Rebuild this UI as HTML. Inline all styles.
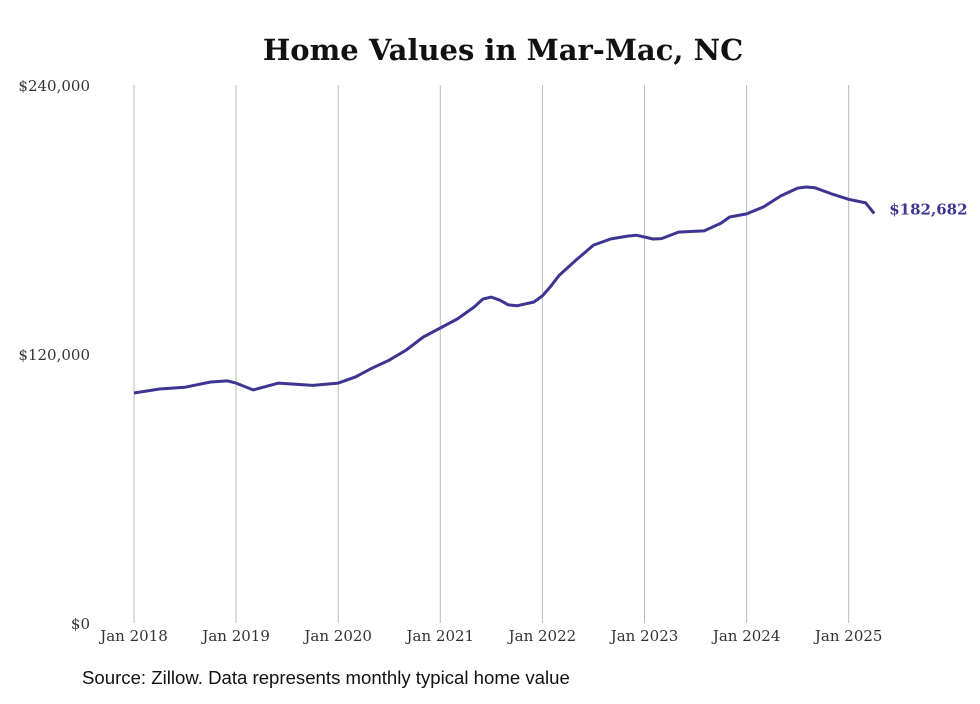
<!DOCTYPE html>
<html><head><meta charset="utf-8"><style>
body{margin:0;background:#fff;width:980px;height:699px;overflow:hidden}
svg text{font-family:"DejaVu Serif","Liberation Serif",serif}
</style></head><body>
<svg width="980" height="699" id="chart">
<text x="503" y="60" text-anchor="middle" font-size="29" font-weight="bold" fill="#111">Home Values in Mar-Mac, NC</text>
<g id="grid"></g><g id="ylab"></g><g id="xlab"></g>
<path id="line" fill="none" stroke="#3d3591" stroke-width="3" stroke-linejoin="round"/>
<text id="endlabel" font-size="15" font-weight="bold" fill="#3d3591"></text>
<text x="82" y="684" font-size="18.6" fill="#111" style="font-family:'Liberation Sans',sans-serif">Source: Zillow. Data represents monthly typical home value</text>
</svg>
<script>
const monthIdx=[0,3,6,9,11,12,14,17,21,24,26,28,30,32,34,36,38,40,41,42,43,44,45,47,48,49,50,52,54,56,58,59,60,61,62,64,66,67,69,70,72,74,76,78,79,80,82,84,86,87];
const values=[102600,104400,105200,107500,108000,107000,104000,107000,106000,107000,109700,113700,117300,121800,127600,131600,135600,141000,144500,145400,144000,141900,141500,143200,145900,150300,155200,162000,168600,171300,172600,173000,172200,171300,171500,174400,174800,174900,178400,181100,182500,185600,190500,194000,194500,194200,191400,189000,187400,182682];
const yTicks=[0,120000,240000];
const yTickLabels=["$0","$120,000","$240,000"];
const xYears=[2018,2019,2020,2021,2022,2023,2024,2025];
const NS="http://www.w3.org/2000/svg";
const x=m=>134+m*(102.1/12);
const y=v=>623-v/240000*538;
const grid=document.getElementById('grid'),xl=document.getElementById('xlab'),yl=document.getElementById('ylab');
xYears.forEach(yr=>{
 const X=x((yr-2018)*12);
 const l=document.createElementNS(NS,'line');
 
 
 l.setAttribute('x1',X);l.setAttribute('x2',X);l.setAttribute('y1',85);l.setAttribute('y2',623);
 l.setAttribute('stroke','#bbb');l.setAttribute('stroke-width','1');grid.appendChild(l);
 const t=document.createElementNS(NS,'text');
 
 
 t.setAttribute('x',X);t.setAttribute('y',641);t.setAttribute('text-anchor','middle');t.setAttribute('font-size','15');t.setAttribute('fill','#333');
 t.textContent='Jan '+yr;xl.appendChild(t);
});
yTicks.forEach((v,i)=>{
 const t=document.createElementNS(NS,'text');
 
 
 t.setAttribute('x',90);t.setAttribute('y',y(v)+6);t.setAttribute('text-anchor','end');t.setAttribute('font-size','15');t.setAttribute('fill','#333');
 t.textContent=yTickLabels[i];yl.appendChild(t);
});
let d='';monthIdx.forEach((m,i)=>{d+=(i?'L':'M')+x(m).toFixed(1)+','+y(values[i]).toFixed(1);});
document.getElementById('line').setAttribute('d',d);
const el=document.getElementById('endlabel');const last=values.length-1;
el.setAttribute('x',x(monthIdx[last])+15);el.setAttribute('y',y(values[last])+1);
el.textContent='$'+values[last].toLocaleString('en-US');
</script>
</body></html>
